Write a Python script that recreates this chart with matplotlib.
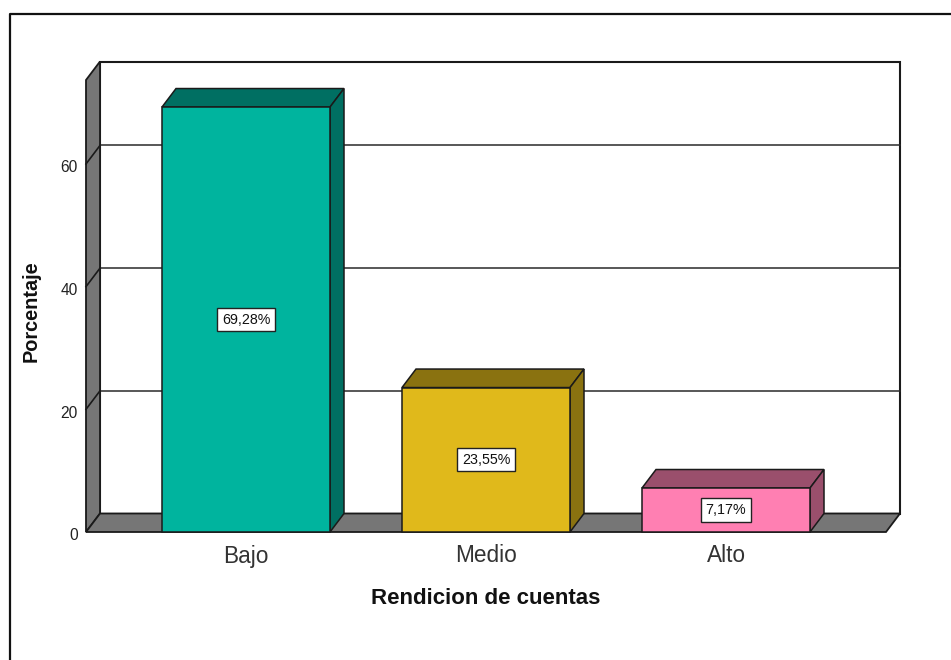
import matplotlib
matplotlib.use("Agg")
import matplotlib.pyplot as plt
from matplotlib.lines import Line2D
from matplotlib.patches import Polygon
from matplotlib.transforms import ScaledTranslation

plt.rcParams['font.family'] = ['Liberation Sans', 'DejaVu Sans']

categories = ['Bajo', 'Medio', 'Alto']
values = [69.28, 23.55, 7.17]
labels = ['69,28%', '23,55%', '7,17%']
y_ticks = [0, 20, 40, 60]
front = ['#00B49E', '#E0B91B', '#FF7FB2']
side = ['#006F62', '#8A7210', '#9A4F6C']
WALL = '#767676'
EDGE = '#1a1a1a'

W, H = 951, 660
fig = plt.figure(figsize=(W / 100, H / 100), dpi=100, facecolor='white')
# front plane: x pixels 86..886, y pixels 532 (value 0) .. 80 (top)
ax = fig.add_axes([86 / W, 1 - 532 / H, 800 / W, 452 / H])
ax.set_xlim(-2 / 3, 8 / 3)
ymax = 452 / 6.134
ax.set_ylim(0, ymax)
ax.patch.set_visible(False)
for s in ax.spines.values():
    s.set_visible(False)

DX = 14 / 240
DY = 18.5 / 6.134
BW = 0.70
x0, x1 = ax.get_xlim()

# back plane
ax.add_patch(Polygon([(x0 + DX, DY), (x1 + DX, DY), (x1 + DX, ymax + DY), (x0 + DX, ymax + DY)],
                     closed=True, fc='white', ec=EDGE, lw=1.5, clip_on=False, zorder=1))
ax.add_patch(Polygon([(x0, 0), (x0 + DX, DY), (x0 + DX, ymax + DY), (x0, ymax)],
                     closed=True, fc=WALL, ec=EDGE, lw=1.3, clip_on=False, zorder=2))
ax.add_patch(Polygon([(x0, 0), (x1, 0), (x1 + DX, DY), (x0 + DX, DY)],
                     closed=True, fc=WALL, ec=EDGE, lw=1.3, clip_on=False, zorder=2))
for t in y_ticks[1:]:
    ax.plot([x0 + DX, x1 + DX], [t + DY, t + DY], color='#2a2a2a', lw=1.1, clip_on=False, zorder=1.5)
    ax.plot([x0, x0 + DX], [t, t + DY], color=EDGE, lw=1.2, clip_on=False, zorder=3)

# bars
for i, (v, f, s, lab) in enumerate(zip(values, front, side, labels)):
    l, r = i - BW / 2, i + BW / 2
    ax.add_patch(Polygon([(l, v), (r, v), (r + DX, v + DY), (l + DX, v + DY)],
                         closed=True, fc=s, ec=EDGE, lw=1.1, clip_on=False, zorder=4))
    ax.add_patch(Polygon([(r, 0), (r + DX, DY), (r + DX, v + DY), (r, v)],
                         closed=True, fc=s, ec=EDGE, lw=1.1, clip_on=False, zorder=4))
    ax.bar(i, v, width=BW, color=f, edgecolor=EDGE, linewidth=1.1, zorder=5, clip_on=False)
    ax.text(i, v / 2, lab, ha='center', va='center', fontsize=10.3, color='#111111', zorder=6,
            bbox=dict(boxstyle='square,pad=0.32', fc='white', ec='#222222', lw=1.0))

ax.set_xticks(range(len(categories)), categories)
ax.set_yticks(y_ticks, [str(t) for t in y_ticks])
ax.tick_params(axis='x', length=0, pad=9, labelsize=16.3, labelcolor='#333333')
ax.tick_params(axis='y', length=0, pad=6, labelsize=11.2, labelcolor='#222222')
shift = ScaledTranslation(0, -2.2 / 100, fig.dpi_scale_trans)
for lab in ax.get_yticklabels():
    lab.set_transform(lab.get_transform() + shift)
ax.set_axisbelow(False)

fig.text(485.5 / W, 1 - 599 / H, 'Rendicion de cuentas', ha='center', va='center',
         fontsize=16, fontweight='bold', color='#111111')
fig.text(31 / W, 1 - 311 / H, 'Porcentaje', ha='center', va='center', rotation=90,
         fontsize=14.3, fontweight='bold', color='#111111')

# outer frame, open at right and bottom
fig.add_artist(Line2D([10 / W, 10 / W, 1], [0, 1 - 13.5 / H, 1 - 13.5 / H], color='#111111', lw=1.6,
                      transform=fig.transFigure))

fig.savefig('out.png', dpi=100)
